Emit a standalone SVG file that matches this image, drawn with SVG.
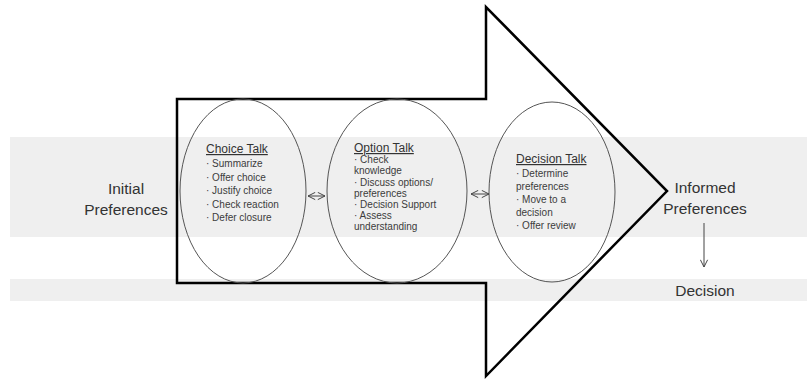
<svg xmlns="http://www.w3.org/2000/svg" width="807" height="382" viewBox="0 0 807 382">
<style>
.band{fill:#efefef}
.big{font-family:"Liberation Sans",Arial,sans-serif;font-size:15.5px;fill:#333;text-anchor:middle}
.ttl{font-family:"Liberation Sans",Arial,sans-serif;font-size:12px;fill:#333;text-decoration:underline}
.itm{font-family:"Liberation Sans",Arial,sans-serif;font-size:10px;fill:#3c3c3c}
.ell{fill:none;stroke:#555;stroke-width:1}
.con{fill:none;stroke:#444;stroke-width:1}
</style>
<defs>
<marker id="oa" viewBox="0 0 10 10" refX="9" refY="5" markerWidth="9" markerHeight="9" orient="auto-start-reverse" markerUnits="userSpaceOnUse">
<path d="M1,1 L9,5 L1,9" fill="none" stroke="#444" stroke-width="1.1"/>
</marker>
</defs>
<rect width="807" height="382" fill="#fff"/>
<rect class="band" x="10" y="137" width="797" height="100"/>
<rect class="band" x="10" y="279" width="797" height="22"/>
<g id="big-arrow">
<polygon points="177,99 486,99 486,7 667,191 486,376 486,283 177,283" fill="none" stroke="#000" stroke-width="2.5" stroke-linejoin="miter"/>
</g>
<g id="initial-preferences">
<text class="big" x="126" y="194">Initial</text>
<text class="big" x="126" y="215">Preferences</text>
</g>
<g id="choice-talk">
<ellipse class="ell" cx="243" cy="191" rx="63" ry="92"/>
<text class="ttl" x="206" y="153">Choice Talk</text>
<text class="itm" x="206" y="167">· Summarize</text>
<text class="itm" x="206" y="181">· Offer choice</text>
<text class="itm" x="206" y="194">· Justify choice</text>
<text class="itm" x="206" y="208">· Check reaction</text>
<text class="itm" x="206" y="221">· Defer closure</text>
</g>
<g id="option-talk">
<ellipse class="ell" cx="397" cy="191" rx="70" ry="92"/>
<text class="ttl" x="354" y="152">Option Talk</text>
<text class="itm" x="354" y="163">· Check</text>
<text class="itm" x="354" y="174">knowledge</text>
<text class="itm" x="354" y="186">· Discuss options/</text>
<text class="itm" x="354" y="197">preferences</text>
<text class="itm" x="354" y="208">· Decision Support</text>
<text class="itm" x="354" y="219">· Assess</text>
<text class="itm" x="354" y="230">understanding</text>
</g>
<g id="decision-talk">
<ellipse class="ell" cx="552" cy="192" rx="63" ry="90"/>
<text class="ttl" x="516" y="163">Decision Talk</text>
<text class="itm" x="516" y="177">· Determine</text>
<text class="itm" x="516" y="190">preferences</text>
<text class="itm" x="516" y="203">· Move to a</text>
<text class="itm" x="516" y="216">decision</text>
<text class="itm" x="516" y="229">· Offer review</text>
</g>
<g id="informed-preferences">
<text class="big" x="705" y="193">Informed</text>
<text class="big" x="705" y="214">Preferences</text>
</g>
<g id="decision">
<text class="big" x="705" y="296">Decision</text>
</g>
<g id="connectors">
<line class="con" x1="308" y1="196" x2="325" y2="196" marker-start="url(#oa)" marker-end="url(#oa)"/>
<line class="con" x1="471" y1="194" x2="489" y2="194" marker-start="url(#oa)" marker-end="url(#oa)"/>
<line class="con" x1="704" y1="223" x2="704" y2="267" marker-end="url(#oa)"/>
</g>
</svg>
